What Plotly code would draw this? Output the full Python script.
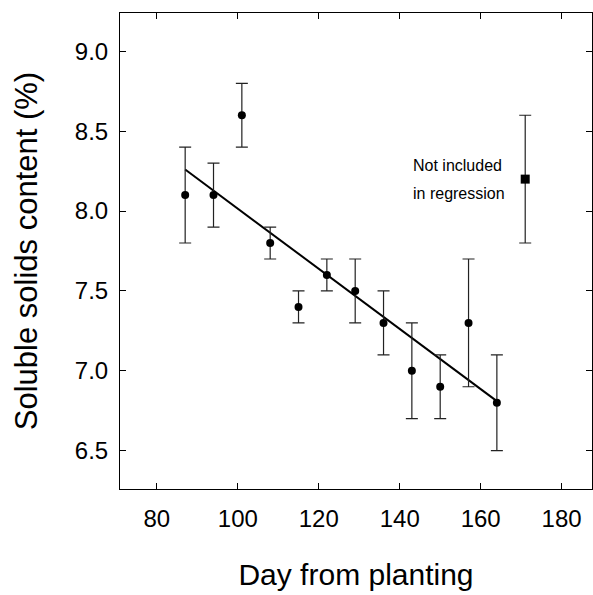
import plotly.graph_objects as go

# Data
days = [87, 94, 101, 108, 115, 122, 129, 136, 143, 150, 157, 164]
ssc = [8.1, 8.1, 8.6, 7.8, 7.4, 7.6, 7.5, 7.3, 7.0, 6.9, 7.3, 6.8]
err_plus = [0.3, 0.2, 0.2, 0.1, 0.1, 0.1, 0.2, 0.2, 0.3, 0.2, 0.4, 0.3]
err_minus = [0.3, 0.2, 0.2, 0.1, 0.1, 0.1, 0.2, 0.2, 0.3, 0.2, 0.4, 0.3]

excl_day = [171]
excl_ssc = [8.2]
excl_err = [0.4]

reg_x = [87, 164]
reg_y = [8.26, 6.81]

x_ticks = [80, 100, 120, 140, 160, 180]
y_ticks = [6.5, 7.0, 7.5, 8.0, 8.5, 9.0]

FONT = "Liberation Sans, Arial, sans-serif"

fig = go.Figure()

fig.add_trace(go.Scatter(
    x=reg_x, y=reg_y, mode="lines",
    line=dict(color="black", width=2), showlegend=False, hoverinfo="skip"))

fig.add_trace(go.Scatter(
    x=days, y=ssc, mode="markers",
    marker=dict(symbol="circle", size=8, color="black"),
    error_y=dict(type="data", symmetric=False, array=err_plus, arrayminus=err_minus,
                 color="#222222", thickness=1.2, width=6),
    showlegend=False))

fig.add_trace(go.Scatter(
    x=excl_day, y=excl_ssc, mode="markers",
    marker=dict(symbol="square", size=9, color="black"),
    error_y=dict(type="data", array=excl_err, color="#222222", thickness=1.2, width=6),
    showlegend=False))

fig.add_annotation(x=142.9, y=8.285, xref="x", yref="y", text="Not included",
                   showarrow=False, xanchor="left", yanchor="middle",
                   font=dict(family=FONT, size=16, color="black"))
fig.add_annotation(x=142.9, y=8.11, xref="x", yref="y", text="in regression",
                   showarrow=False, xanchor="left", yanchor="middle",
                   font=dict(family=FONT, size=16, color="black"))

axis_common = dict(
    showline=True, linecolor="black", linewidth=1, mirror="ticks",
    ticks="inside", ticklen=6, tickwidth=1, tickcolor="black",
    showgrid=False, zeroline=False,
    tickfont=dict(family=FONT, size=24, color="black"),
)

fig.update_layout(
    width=593, height=595,
    margin=dict(l=120, r=1, t=13, b=106),
    paper_bgcolor="white", plot_bgcolor="white",
    font=dict(family=FONT, color="black"),
    xaxis=dict(range=[70.9, 187.5], tickvals=x_ticks, ticklabelstandoff=8,
               title=dict(text="Day from planting", font=dict(family=FONT, size=30), standoff=33),
               **axis_common),
    yaxis=dict(range=[6.26, 9.24], tickvals=y_ticks, tickformat=".1f", ticklabelstandoff=6,
               title=dict(text="Soluble solids content (%)", font=dict(family=FONT, size=31), standoff=27),
               **axis_common),
)

fig.write_html("out.html", config={"displayModeBar": False},
               post_script="document.body.style.margin='0';document.body.style.overflow='hidden';")
